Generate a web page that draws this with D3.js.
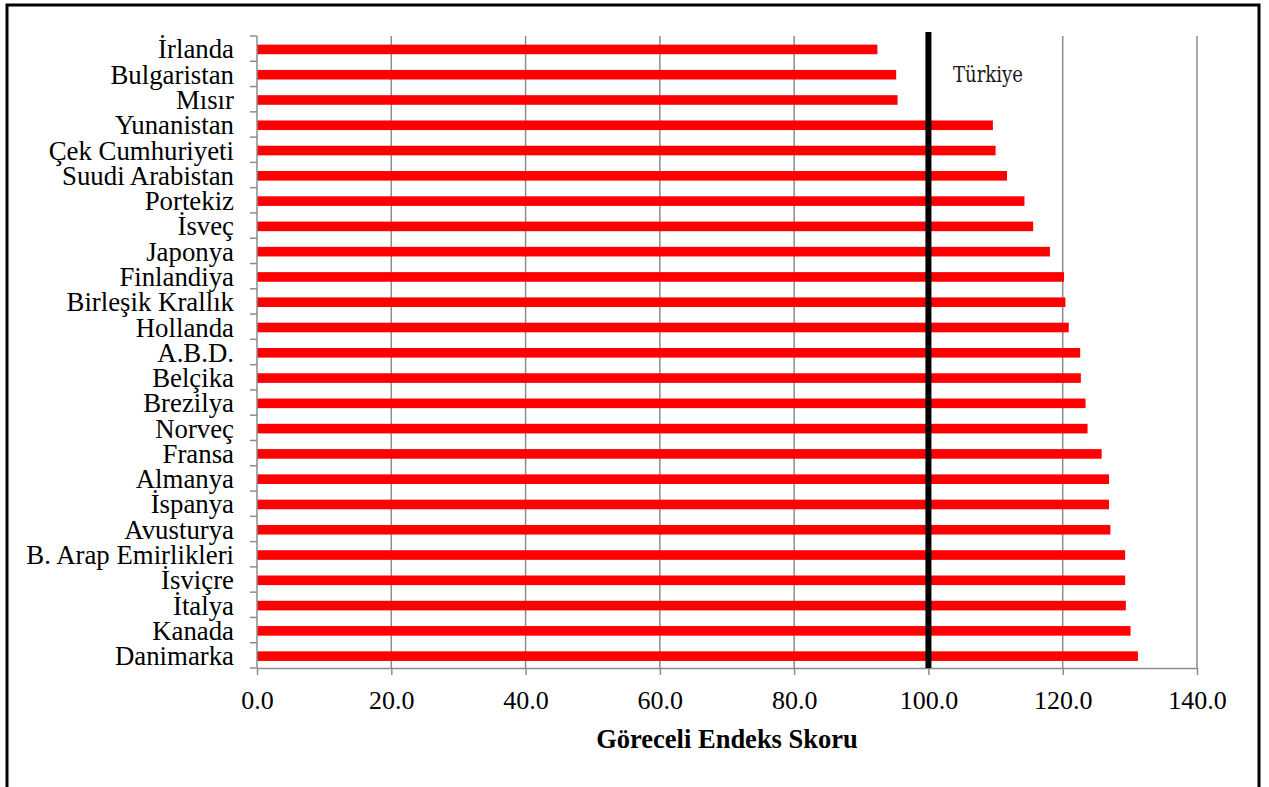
<!DOCTYPE html>
<html>
<head>
<meta charset="utf-8">
<script src="https://cdn.jsdelivr.net/npm/d3@7"></script>
<style>
  html, body { margin: 0; padding: 0; background: #fff; }
  svg { display: block; }
</style>
</head>
<body>
<svg id="chart" width="1269" height="787"></svg>
<script>
// Countries, top to bottom
const countries = [
  "İrlanda", "Bulgaristan", "Mısır", "Yunanistan", "Çek Cumhuriyeti",
  "Suudi Arabistan", "Portekiz", "İsveç", "Japonya", "Finlandiya",
  "Birleşik Krallık", "Hollanda", "A.B.D.", "Belçika", "Brezilya",
  "Norveç", "Fransa", "Almanya", "İspanya", "Avusturya",
  "B. Arap Emirlikleri", "İsviçre", "İtalya", "Kanada", "Danimarka"
];
// Relative index score per country
const scores = [
  92.4, 95.2, 95.4, 109.6, 110.0,
  111.7, 114.3, 115.6, 118.1, 120.2,
  120.4, 120.9, 122.6, 122.7, 123.4,
  123.7, 125.8, 126.9, 126.9, 127.1,
  129.3, 129.3, 129.4, 130.1, 131.2
];
const xTicks = [0, 20, 40, 60, 80, 100, 120, 140];
const referenceValue = 100;
const referenceLabel = "Türkiye";
const axisTitle = "Göreceli Endeks Skoru";

const svg = d3.select("#chart");
const plotLeft = 257, plotRight = 1197, plotTop = 36, plotBottom = 668;

const x = d3.scaleLinear().domain([0, 140]).range([plotLeft, plotRight]);
const y = d3.scaleBand().domain(countries).range([plotTop, plotBottom])
  .paddingInner(0.62).paddingOuter(0.31).align(0.55);

const gridColor = "#8c8c8c";
const serif = "'Liberation Serif', 'Times New Roman', serif";

// outer frame
svg.append("rect")
  .attr("x", 7).attr("y", 5).attr("width", 1252).attr("height", 800)
  .attr("fill", "none").attr("stroke", "#000").attr("stroke-width", 3);

// vertical gridlines
svg.append("g").selectAll("line")
  .data(xTicks.filter(d => d > 0))
  .join("line")
  .attr("x1", d => x(d)).attr("x2", d => x(d))
  .attr("y1", plotTop).attr("y2", plotBottom)
  .attr("stroke", gridColor).attr("stroke-width", 1.5);

// bars
svg.append("g").selectAll("rect")
  .data(countries)
  .join("rect")
  .attr("x", x(0))
  .attr("y", d => y(d))
  .attr("width", (d, i) => x(scores[i]) - x(0))
  .attr("height", y.bandwidth())
  .attr("fill", "#ff0000");

// bottom axis
const xAxis = d3.axisBottom(x).tickValues(xTicks).tickFormat(d3.format(".1f")).tickSize(7).tickSizeOuter(0);
const gx = svg.append("g").attr("transform", `translate(0,${plotBottom})`).call(xAxis);
gx.select(".domain").attr("stroke", gridColor).attr("stroke-width", 1.5);
gx.selectAll(".tick line").attr("stroke", gridColor).attr("stroke-width", 1.5);
gx.selectAll(".tick text")
  .attr("y", 41).attr("dy", null)
  .attr("fill", "#000")
  .style("font-family", serif)
  .style("font-size", "26px");

// left axis: ticks at band boundaries
const bandEdges = d3.range(countries.length + 1)
  .map(i => plotTop + i * (plotBottom - plotTop) / countries.length);
const gy = svg.append("g");
gy.append("line")
  .attr("x1", plotLeft).attr("x2", plotLeft).attr("y1", plotTop).attr("y2", plotBottom)
  .attr("stroke", gridColor).attr("stroke-width", 1.5);
gy.selectAll("line.tk")
  .data(bandEdges)
  .join("line").attr("class", "tk")
  .attr("x1", plotLeft - 7).attr("x2", plotLeft)
  .attr("y1", d => d).attr("y2", d => d)
  .attr("stroke", gridColor).attr("stroke-width", 1.5);
gy.selectAll("text")
  .data(countries)
  .join("text")
  .attr("x", 234)
  .attr("y", d => y(d) + y.bandwidth() / 2 + 9)
  .attr("text-anchor", "end")
  .attr("fill", "#000")
  .style("font-family", serif)
  .style("font-size", "26.8px")
  .text(d => d);

// reference line at 100
svg.append("line")
  .attr("x1", x(referenceValue)).attr("x2", x(referenceValue))
  .attr("y1", 32).attr("y2", plotBottom)
  .attr("stroke", "#000").attr("stroke-width", 6);

svg.append("text")
  .attr("x", 953).attr("y", 82)
  .attr("fill", "#1a1a1a")
  .attr("textLength", 70)
  .attr("lengthAdjust", "spacingAndGlyphs")
  .style("font-family", "'DejaVu Serif Condensed', 'DejaVu Serif', serif")
  .style("font-size", "22px")
  .text(referenceLabel);

// axis title
svg.append("text")
  .attr("x", (plotLeft + plotRight) / 2).attr("y", 748)
  .attr("text-anchor", "middle")
  .attr("fill", "#000")
  .style("font-family", serif)
  .style("font-weight", "bold")
  .style("font-size", "26.5px")
  .text(axisTitle);
</script>
</body>
</html>
